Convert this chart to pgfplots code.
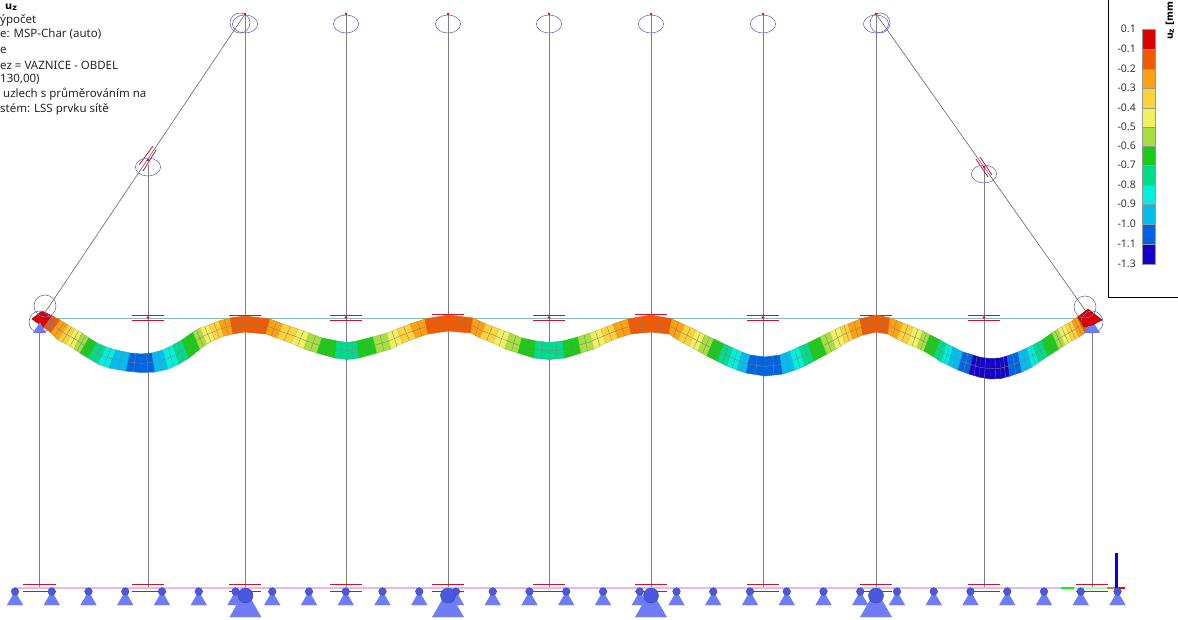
\documentclass[border=0pt]{standalone}
\usepackage{pgfplots}
\pgfplotsset{compat=1.18}
\usepackage{fontspec}
\setmainfont{Noto Sans}
\newfontfamily\bff{DejaVu Sans}
\definecolor{cR}{HTML}{DC0000}
\definecolor{cD}{HTML}{F05A00}
\definecolor{cO}{HTML}{FFA010}
\definecolor{cL}{HTML}{FFD23C}
\definecolor{cY}{HTML}{F0F060}
\definecolor{cM}{HTML}{A6E040}
\definecolor{cG}{HTML}{18CC18}
\definecolor{cT}{HTML}{00DC8C}
\definecolor{cC}{HTML}{00F0DC}
\definecolor{cS}{HTML}{00BEF0}
\definecolor{cB}{HTML}{0064E0}
\definecolor{cN}{HTML}{1400C8}
\definecolor{qg}{HTML}{808080}
\definecolor{nb}{HTML}{6A70C0}
\definecolor{sb}{HTML}{6E7CF5}
\definecolor{bl}{HTML}{4A58E0}
\definecolor{bd}{HTML}{3A44A8}
\definecolor{rr}{HTML}{D01030}
\definecolor{pk}{HTML}{E8B8E8}
\definecolor{tl}{HTML}{80BCBC}
% one beam element from the previous station to this one
\newcommand\Go[4]{\xdef\pxt{#1}\xdef\pyt{#2}\xdef\pxb{#3}\xdef\pyb{#4}}
\newcommand\St[5]{%
 \pgfmathsetmacro\axa{(\pxt+#2)/2}\pgfmathsetmacro\aya{(\pyt+#3)/2}%
 \pgfmathsetmacro\axb{(\pxb+#4)/2}\pgfmathsetmacro\ayb{(\pyb+#5)/2}%
 \pgfmathsetmacro\bxa{(\pxt+\pxb)/2}\pgfmathsetmacro\bya{(\pyt+\pyb)/2}%
 \pgfmathsetmacro\bxb{(#2+#4)/2}\pgfmathsetmacro\byb{(#3+#5)/2}%
 \addplot[fill=#1,draw=#1!70!qg,line width=.5pt] coordinates {(\pxt,\pyt)(#2,#3)(#4,#5)(\pxb,\pyb)} --cycle;
 \addplot[draw=qg,line width=.35pt] coordinates {(\axa,\aya)(\axb,\ayb)};
 \addplot[draw=qg,line width=.35pt] coordinates {(\bxa,\bya)(\bxb,\byb)};
 \xdef\pxt{#2}\xdef\pyt{#3}\xdef\pxb{#4}\xdef\pyb{#5}}
\newcommand\Sw[3]{\addplot[fill=#1,draw=black!40,line width=.4pt] coordinates {(1142,#2)(1155,#2)(1155,#3)(1142,#3)} --cycle;}
% a pair of parallel horizontal bars
\newcommand\Br[4]{\addplot[draw=#4,line width=.9pt] coordinates {(#1,#2)(#3,#2)};}
\begin{document}
\begin{tikzpicture}
\path[use as bounding box] (0,0) rectangle (1178pt,620pt);
\begin{axis}[at={(0,0)},anchor=south west,hide axis,scale only axis,width=1178pt,height=620pt,
  xmin=0,xmax=1178,ymin=0,ymax=620,y dir=reverse,clip=false]
% columns and diagonals
\addplot[draw=qg,line width=.9pt] coordinates {(39.5,320)(39.5,588)};
\addplot[draw=qg,line width=.9pt] coordinates {(148,165)(148,588)};
\addplot[draw=qg,line width=.9pt] coordinates {(245,14)(245,588)};
\addplot[draw=qg,line width=.9pt] coordinates {(346,14)(346,588)};
\addplot[draw=qg,line width=.9pt] coordinates {(448,14)(448,588)};
\addplot[draw=qg,line width=.9pt] coordinates {(549,14)(549,588)};
\addplot[draw=qg,line width=.9pt] coordinates {(651,14)(651,588)};
\addplot[draw=qg,line width=.9pt] coordinates {(763,14)(763,588)};
\addplot[draw=qg,line width=.9pt] coordinates {(876,14)(876,588)};
\addplot[draw=qg,line width=.9pt] coordinates {(984,167)(984,588)};
\addplot[draw=qg,line width=.9pt] coordinates {(1092,320)(1092,588)};
\addplot[draw=black!60,line width=.6pt] coordinates {(40,320)(245,14)};
\addplot[draw=black!60,line width=.6pt] coordinates {(876,14)(1092,320)};
\addplot[draw=tl,line width=.9pt] coordinates {(40,318)(1092,318)};
% bottom chord
\addplot[draw=pk,line width=2pt] coordinates {(15,588)(1125,588)};
\addplot[draw=green,line width=2pt] coordinates {(1061,588)(1074,588)};
\addplot[draw=green!30,line width=2pt] coordinates {(1075,588)(1107,588)};
\addplot[draw=brown,line width=2pt] coordinates {(1107,588)(1117,588)};
\addplot[draw=red,line width=2pt] coordinates {(1117,588)(1125,588)};
\addplot[draw=blue,line width=3pt] coordinates {(1116.5,553)(1116.5,588)};
% small supports
\addplot[only marks,mark=triangle*,mark size=9pt,mark options={fill=sb,draw=sb}] coordinates {
(15,600.5)(51.75,600.5)(88.5,600.5)(125.25,600.5)(162,600.5)(198.75,600.5)(235.5,600.5)(272.25,600.5)
(309,600.5)(345.75,600.5)(382.5,600.5)(419.25,600.5)(456,600.5)(492.75,600.5)(529.5,600.5)(566.25,600.5)
(603,600.5)(639.75,600.5)(676.5,600.5)(713.25,600.5)(750,600.5)(786.75,600.5)(823.5,600.5)(860.25,600.5)
(897,600.5)(933.75,600.5)(970.5,600.5)(1007.25,600.5)(1044,600.5)(1080.75,600.5)(1117.5,600.5)};
\addplot[only marks,mark=*,mark size=3.8pt,mark options={fill=bl,draw=bd,line width=.4pt}] coordinates {
(15,591.5)(51.75,591.5)(88.5,591.5)(125.25,591.5)(162,591.5)(198.75,591.5)(235.5,591.5)(272.25,591.5)
(309,591.5)(345.75,591.5)(382.5,591.5)(419.25,591.5)(456,591.5)(492.75,591.5)(529.5,591.5)(566.25,591.5)
(603,591.5)(639.75,591.5)(676.5,591.5)(713.25,591.5)(750,591.5)(786.75,591.5)(823.5,591.5)(860.25,591.5)
(897,591.5)(933.75,591.5)(970.5,591.5)(1007.25,591.5)(1044,591.5)(1080.75,591.5)(1117.5,591.5)};
% big supports
\addplot[only marks,mark=triangle*,mark size=18pt,mark options={fill=sb,draw=sb}] coordinates {(245.5,608)(448,608)(651,608)(876,608)};
\addplot[only marks,mark=*,mark size=7.5pt,mark options={fill=bl,draw=bd,line width=.4pt}] coordinates {(245.5,595.5)(448,595.5)(651,595.5)(876,595.5)};
% bottom double bars
\Br{23}{584}{56}{rr}\Br{23}{591}{56}{rr}
\Br{132}{584}{164}{rr}\Br{132}{591}{164}{rr}
\Br{229}{584}{261}{rr}\Br{229}{591}{261}{rr}
\Br{330}{584}{362}{rr}\Br{330}{591}{362}{rr}
\Br{432}{584}{464}{rr}\Br{432}{591}{464}{rr}
\Br{533}{584}{565}{rr}\Br{533}{591}{565}{rr}
\Br{635}{584}{667}{rr}\Br{635}{591}{667}{rr}
\Br{747}{584}{779}{rr}\Br{747}{591}{779}{rr}
\Br{860}{584}{892}{rr}\Br{860}{591}{892}{rr}
\Br{968}{584}{1000}{rr}\Br{968}{591}{1000}{rr}
\Br{1076}{584}{1108}{rr}\Br{1076}{591}{1108}{rr}
% top chord double bars
\Br{132}{315}{164}{rr}\Br{132}{320}{164}{rr}
\Br{330}{315}{362}{rr}\Br{330}{320}{362}{rr}
\Br{533}{315}{565}{rr}\Br{533}{320}{565}{rr}
\Br{747}{315}{779}{rr}\Br{747}{320}{779}{rr}
\Br{968}{315}{1000}{rr}\Br{968}{320}{1000}{rr}
\Br{229}{315}{261}{rr}\Br{432}{314}{464}{rr}
\Br{635}{314}{667}{rr}\Br{860}{315}{892}{rr}
% diagonal bars
\addplot[draw=rr,line width=.8pt] coordinates {(139,165)(153,146)};
\addplot[draw=rr,line width=.8pt] coordinates {(143,171)(156,150)};
\addplot[draw=rr,line width=.8pt] coordinates {(980,157)(992,175)};
\addplot[draw=rr,line width=.8pt] coordinates {(976,159)(988,177)};
% nodes
\addplot[color=nb,only marks,mark=o,mark size=9pt,mark options={color=nb,xscale=1.4,line width=.6pt}] coordinates {
(245,24)(346,24)(448,24)(549,24)(651,24)(763,24)(876,24)(148,167)(984,174)};
\addplot[color=nb,only marks,mark=o,mark size=10pt,mark options={color=nb,line width=.6pt}] coordinates {(240,23)(880,23)};
\addplot[color=nb,only marks,mark=o,mark size=11pt,mark options={color=nb,line width=.6pt}] coordinates {(45,306)(1085,307)(40,322)(1092,322)};
\addplot[color=rr,only marks,mark=*,mark size=1pt,mark options={color=rr}] coordinates {(245,14)(346,14)(448,14)(549,14)(651,14)(763,14)(876,14)(148,160)(984,167)(148,317.5)(346,317.5)(549,317.5)(763,317.5)(984,317.5)};
% beam, red end at left
\addplot[fill=cR,draw=cR!70!black,line width=.5pt] coordinates {(32,319)(42,311)(54,317)(46,329)} --cycle;
\addplot[fill=sb,draw=none] coordinates {(40,322)(46,333)(33,333)} --cycle;
\Go{52}{316}{44}{327}
\St{cD}{60}{320}{51}{333}
\St{cO}{68}{325}{58}{340}
\St{cL}{75}{329}{66}{344}
\St{cY}{82}{333}{74}{349}
\St{cM}{89}{338}{80}{353}
\St{cG}{97}{343}{88}{358}
\St{cT}{106}{347}{98}{364}
\St{cC}{116}{350}{109}{368}
\St{cS}{130}{353}{126}{371}
\St{cB}{141}{354}{141}{372.5}
\St{cB}{152}{353}{155}{372}
\St{cS}{163}{350}{168}{369}
\St{cC}{173}{345}{179}{364}
\St{cT}{182}{340}{189}{358}
\St{cG}{193}{332}{200}{349}
\St{cM}{200}{328}{207}{344}
\St{cY}{209}{325}{215}{340}
\St{cL}{219}{321}{224}{336}
\St{cO}{230}{318}{233}{334}
\St{cD}{245}{316}{245}{332}
\St{cD}{270}{319}{266}{334}
\St{cO}{283}{324}{277}{338}
\St{cL}{298}{329}{291}{343}
\St{cY}{309}{333}{304}{349}
\St{cM}{322}{338}{317}{353}
\St{cG}{337}{341}{335}{358}
\St{cT}{347}{342.5}{347}{359.5}
\St{cT}{357}{341}{359}{358}
\St{cG}{373}{337}{377}{353}
\St{cM}{387}{333}{391}{349}
\St{cY}{397}{329}{403}{343}
\St{cL}{410}{324}{416}{338}
\St{cO}{425}{319}{428}{334}
\St{cD}{448}{315}{448}{331}
\St{cD}{473}{318}{471}{333}
\St{cO}{486}{324}{480}{338}
\St{cL}{499}{329}{493}{343}
\St{cY}{510}{333}{505}{349}
\St{cM}{522}{338}{518}{353}
\St{cG}{536}{341}{534}{358}
\St{cT}{549}{342.5}{549}{359.5}
\St{cT}{563}{341}{565}{358}
\St{cG}{578}{337}{581}{353}
\St{cM}{590}{333}{594}{349}
\St{cY}{601}{329}{606}{343}
\St{cL}{613}{324}{618}{338}
\St{cO}{628}{319}{631}{334}
\St{cD}{651}{315}{651}{332}
\St{cD}{672}{319}{669}{334}
\St{cO}{685}{325}{678}{340}
\St{cL}{696}{330}{689}{346}
\St{cY}{705}{335}{698}{351}
\St{cM}{714}{339}{707}{356}
\St{cG}{724}{344}{717}{361}
\St{cT}{733}{348}{727}{366}
\St{cC}{742}{352}{737}{370}
\St{cS}{750}{355}{746}{373}
\St{cB}{765}{357}{765}{376}
\St{cB}{780}{355}{783}{374}
\St{cS}{790}{351}{795}{370}
\St{cC}{799}{347}{805}{366}
\St{cT}{808}{343}{814}{361}
\St{cG}{820}{337}{827}{354}
\St{cM}{830}{332}{836}{349}
\St{cY}{840}{327}{845}{343}
\St{cL}{848}{324}{853}{339}
\St{cO}{860}{319}{863}{335}
\St{cD}{876}{315}{876}{332}
\St{cD}{890}{318}{888}{334}
\St{cO}{903}{323}{897}{339}
\St{cL}{913}{327}{907}{344}
\St{cY}{923}{331}{917}{348}
\St{cM}{930}{335}{924}{351}
\St{cG}{940}{340}{934}{357}
\St{cT}{947}{344}{941}{362}
\St{cC}{953}{347}{948}{365}
\St{cS}{963}{352}{958}{370}
\St{cB}{973}{355}{969}{374}
\St{cN}{981}{357.5}{979}{377}
\St{cN}{990}{358.5}{990}{379}
\St{cN}{1000}{358}{1001}{378.5}
\St{cN}{1007}{356}{1010}{376}
\St{cB}{1018}{352}{1022}{372}
\St{cS}{1027}{348}{1032}{367}
\St{cC}{1033}{345}{1039}{362}
\St{cT}{1042}{340}{1048}{356}
\St{cG}{1052}{333}{1059}{349}
\St{cM}{1058}{329}{1065}{345}
\St{cY}{1065}{325}{1072}{341}
\St{cL}{1072}{321}{1079}{337}
\St{cO}{1077}{317}{1085}{333}
\St{cD}{1083}{315}{1090}{327}
% beam, red end at right
\addplot[fill=sb,draw=none] coordinates {(1092,320)(1100,333)(1084,333)} --cycle;
\addplot[fill=cR,draw=cR!70!black,line width=.5pt] coordinates {(1078,317)(1088,309)(1102,320)(1092,325)(1084,327)} --cycle;
% colour key
\addplot[draw=black,line width=.9pt] coordinates {(1108,-2)(1108,297)(1180,297)};
\Sw{cR}{29}{49}
\Sw{cD}{49}{69}
\Sw{cO}{69}{88}
\Sw{cL}{88}{108}
\Sw{cY}{108}{127}
\Sw{cM}{127}{146}
\Sw{cG}{146}{165}
\Sw{cT}{165}{185}
\Sw{cC}{185}{204}
\Sw{cS}{204}{224}
\Sw{cB}{224}{244}
\Sw{cN}{244}{264}
\foreach \v/\y in {0.1/29,-0.1/49,-0.2/69,-0.3/88,-0.4/108,-0.5/127,-0.6/146,-0.7/165,-0.8/185,-0.9/204,-1.0/224,-1.1/244,-1.3/264}{
  \edef\tmp{\noexpand\node[anchor=east,inner sep=0pt,font=\noexpand\fontsize{10.5}{12}\noexpand\selectfont,text=black!80] at (axis cs:1136,\y) {\v};}\tmp}
\node[rotate=90,anchor=west,inner sep=0pt,font=\bff\fontsize{9.5}{12}\selectfont\bfseries] at (axis cs:1170,40) {u\raisebox{-1pt}{\fontsize{7.5}{9}\selectfont z} [mm};
% text block
\node[anchor=west,inner sep=0pt,font=\bff\fontsize{10}{12}\selectfont\bfseries] at (axis cs:5,7) {u\raisebox{-1pt}{\fontsize{8}{9}\selectfont z}};
\foreach \t/\y/\x in {ýpočet/20/0,e: MSP-Char (auto)/34/0,e/50/0,ez = VAZNICE - OBDEL/65/0,{130,00)}/79/0,uzlech s průměrováním na/94/3,stém: LSS prvku sítě/109/0}{
  \edef\tmp{\noexpand\node[anchor=west,inner sep=0pt,font=\noexpand\fontsize{11.5}{13}\noexpand\selectfont,text=black!85] at (axis cs:\x,\y) {\t};}\tmp}
\end{axis}
\end{tikzpicture}
\end{document}
